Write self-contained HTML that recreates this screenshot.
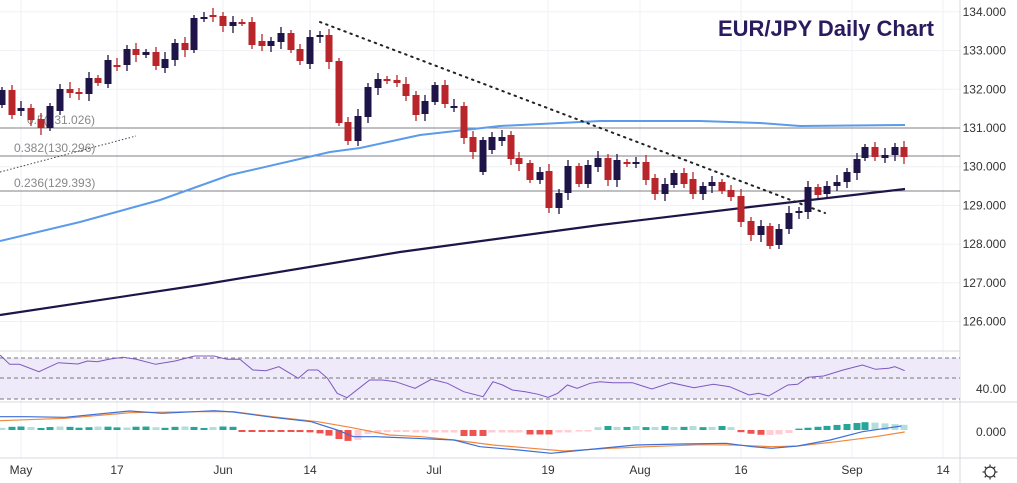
<!DOCTYPE html>
<html><head><meta charset="utf-8"><style>
html,body{margin:0;padding:0;background:#fff;width:1017px;height:483px;overflow:hidden;font-family:"Liberation Sans",sans-serif}
</style></head><body>
<svg id="s" width="1017" height="483" xmlns="http://www.w3.org/2000/svg" font-family="Liberation Sans, sans-serif"></svg>
<script>
const S=document.getElementById('s');let h='';
const P=p=>128+(131-p)*38.7;
for(let p=126;p<=134;p++){h+=`<line x1="0" x2="960" y1="${P(p)}" y2="${P(p)}" stroke="#eef0f4"/>`;h+=`<text x="1006" y="${P(p)+4}" font-size="12" fill="#333" text-anchor="end">${p}.000</text>`;}
const dx=[21,117,223,310,434,548,640,741,852,943],dl=['May','17','Jun','14','Jul','19','Aug','16','Sep','14'];
dx.forEach((x,i)=>{h+=`<line x1="${x}" x2="${x}" y1="0" y2="458" stroke="#eef0f4"/>`;h+=`<text x="${x}" y="474" font-size="12" fill="#333" text-anchor="middle">${dl[i]}</text>`;});
h+=`<line x1="960" x2="960" y1="0" y2="483" stroke="#d8dae0"/>`;
h+=`<line x1="0" x2="960" y1="351" y2="351" stroke="#d8dae0"/><line x1="0" x2="1017" y1="402" y2="402" stroke="#d8dae0"/><line x1="0" x2="1017" y1="458" y2="458" stroke="#d8dae0"/>`;
[[128,'0.5(131.026)',27],[156,'0.382(130.296)',14],[191,'0.236(129.393)',14]].forEach(f=>{h+=`<line x1="0" x2="960" y1="${f[0]}" y2="${f[0]}" stroke="#80808a" stroke-width="1"/>`;h+=`<text x="${f[2]}" y="${f[0]-4}" font-size="12" fill="#888">${f[1]}</text>`;});
h+=`<polyline fill="none" stroke="#5b9bea" stroke-width="2" points="0,241 80,222 160,200 230,175 330,152 360,148 420,135 500,126 600,121 700,121 760,123 800,126 905,125"/>`;
h+=`<polyline fill="none" stroke="#1e1448" stroke-width="2.2" points="0,315 200,285 400,252 600,225 750,207 905,189"/>`;
h+=`<line x1="320" y1="22" x2="825" y2="213" stroke="#222" stroke-width="2" stroke-dasharray="1.5,5" stroke-linecap="round"/>`;
h+=`<line x1="0" y1="172" x2="136" y2="136" stroke="#444" stroke-width="1" stroke-dasharray="1.5,2"/>`;
const C=[[2,105,90],[12,90,115],[21,111,108],[31,108,120],[41,119,128],[50,128,106],[60,111,89],[70,89,93],[79,92,94],[89,94,78],[98,78,83],[108,84,60],[117,65,66],[127,65,49],[136,49,55],[146,55,52],[156,52,66],[165,68,59],[175,60,43],[185,43,50],[194,50,18],[204,18,17],[213,15,17],[223,16,26],[233,26,22],[242,22,23],[252,22,45],[262,41,46],[271,46,41],[281,42,33],[291,33,50],[300,49,61],[310,64,37],[320,37,35],[329,35,62],[339,61,123],[348,122,141],[358,141,116],[368,117,87],[378,88,79],[387,79,81],[397,80,83],[406,84,96],[416,95,115],[425,114,101],[435,102,85],[445,85,104],[454,107,106],[464,106,138],[473,137,152],[483,172,140],[492,150,137],[502,141,137],[511,135,159],[519,158,164],[530,163,180],[540,180,172],[549,171,208],[559,208,193],[568,193,166],[579,166,184],[588,184,165],[598,167,158],[608,158,180],[617,180,160],[627,162,164],[636,164,162],[646,162,180],[655,178,194],[665,194,184],[674,185,173],[684,173,184],[693,179,194],[703,194,186],[712,186,182],[722,182,191],[731,190,197],[741,196,222],[751,221,235],[761,235,226],[770,226,246],[779,245,229],[789,229,213],[799,213,211],[808,212,187],[818,187,195],[827,194,186],[837,186,182],[847,182,172],[857,173,159],[865,158,147],[875,147,157],[885,158,155],[895,155,147],[904,147,157]];
C.forEach((c,i)=>{const[x,o,cl]=c;const up=cl<o;const col=up?'#1e1448':'#b8252b';const t=Math.min(o,cl),b=Math.max(o,cl);const e1=3+((i*7)%5),e2=3+((i*11)%5);
h+=`<line x1="${x}" x2="${x}" y1="${t-e1}" y2="${b+e2}" stroke="${col}" stroke-width="1.3"/>`;h+=`<rect x="${x-3.5}" y="${t}" width="7" height="${Math.max(2,b-t)}" fill="${col}"/>`;});
h+=`<text x="934" y="36" font-size="22" font-weight="bold" fill="#2a1a5e" text-anchor="end">EUR/JPY Daily Chart</text>`;
h+=`<rect x="0" y="358" width="960" height="41" fill="#efeaf9"/>`;
[358,378,399].forEach(y=>h+=`<line x1="0" x2="960" y1="${y}" y2="${y}" stroke="#777" stroke-dasharray="4,3"/>`);
h+=`<text x="1006" y="393" font-size="12" fill="#333" text-anchor="end">40.00</text>`;
const K=1.542,T=pts=>pts.map(p=>`${(p[0]/K).toFixed(1)},${(p[1]/3+340).toFixed(1)}`).join(' ');
const R=[[0,45],[15,73],[30,73],[60,95],[90,68],[120,72],[135,63],[150,65],[170,57],[190,52],[210,58],[240,73],[270,63],[300,48],[330,48],[350,58],[370,58],[390,90],[410,92],[430,80],[460,115],[475,90],[490,90],[505,115],[520,160],[535,173],[570,120],[590,120],[610,125],[640,145],[665,118],[690,130],[715,155],[745,170],[760,125],[775,135],[790,150],[810,155],[830,163],[845,172],[860,160],[875,135],[890,145],[910,130],[925,125],[945,128],[975,128],[1005,147],[1035,128],[1070,143],[1100,133],[1125,140],[1155,165],[1170,160],[1185,168],[1215,135],[1230,133],[1245,112],[1270,108],[1300,90],[1330,75],[1350,88],[1370,85],[1380,80],[1395,92]];
h+=`<polyline fill="none" stroke="#7e57c2" stroke-width="1" points="${T(R)}"/>`;
h+=`<text x="1006" y="436" font-size="12" fill="#333" text-anchor="end">0.000</text>`;
const Z=430;
// histogram: [x, value(px, +up), strong?]
function hv(x){
 if(x<240) return [2+Math.abs(Math.sin(x/13))*1.5, (Math.floor(x/10)%3)!=0];
 if(x<363){const v=2+9*Math.exp(-Math.pow((x-350)/22,2));return [-v, x<352];}
 if(x<408) return [-(2+2*Math.exp(-Math.pow((x-365)/15,2))), false];
 if(x<570){let v=2.5; let s=false;
   if(x>=462&&x<=490){v=6;s=true;} if(x>=522&&x<=552){v=4.5;s=true;}
   return [-v,s];}
 if(x<590) return [-1.5,false];
 if(x<740) return [2+Math.abs(Math.sin(x/9))*2, (Math.floor(x/10)%2)==0];
 if(x<795) return [-(2+Math.sin((x-740)/55*Math.PI)*3), x<770];
 if(x<867) return [1+(x-795)/72*7, true];
 return [8-(x-867)/40*3, false];
}
for(let i=0;i<C.length;i++){const x=C[i][0];const [v,s]=hv(x);let col;
 if(v>=0)col=s?'#26a69a':'#b2dfdb';else col=s?'#ef5350':'#ffcdd2';
 h+=`<rect x="${x-3.5}" y="${v>=0?Z-v:Z}" width="7" height="${Math.abs(v)}" fill="${col}"/>`;}
const B=[[0,230],[40,230],[100,232],[200,213],[250,220],[330,212],[360,216],[420,232],[480,245],[520,270],[545,290],[580,290],[640,295],[700,300],[740,320],[800,330],[850,340],[900,330],[980,315],[1050,312],[1120,310],[1160,320],[1190,325],[1230,318],[1280,300],[1330,275],[1390,258]];
const O=[[0,242],[100,235],[200,218],[300,215],[360,215],[420,230],[490,245],[540,262],[600,285],[650,290],[700,300],[760,315],[820,325],[870,333],[940,325],[1000,320],[1080,314],[1130,315],[1190,320],[1230,318],[1290,305],[1350,290],[1395,276]];
h+=`<polyline fill="none" stroke="#f0883e" stroke-width="1.2" points="${T(O)}"/>`;
h+=`<polyline fill="none" stroke="#3d6fd8" stroke-width="1.2" points="${T(B)}"/>`;
h+=`<circle cx="990" cy="472" r="5" fill="none" stroke="#333" stroke-width="1.2"/>`;
[0,45,90,135,180,225,270,315].forEach(a=>{const r=a*Math.PI/180;h+=`<line x1="${990+5*Math.cos(r)}" y1="${472+5*Math.sin(r)}" x2="${990+7.5*Math.cos(r)}" y2="${472+7.5*Math.sin(r)}" stroke="#333" stroke-width="1.2"/>`});
S.innerHTML=h;
</script>
</body></html>
